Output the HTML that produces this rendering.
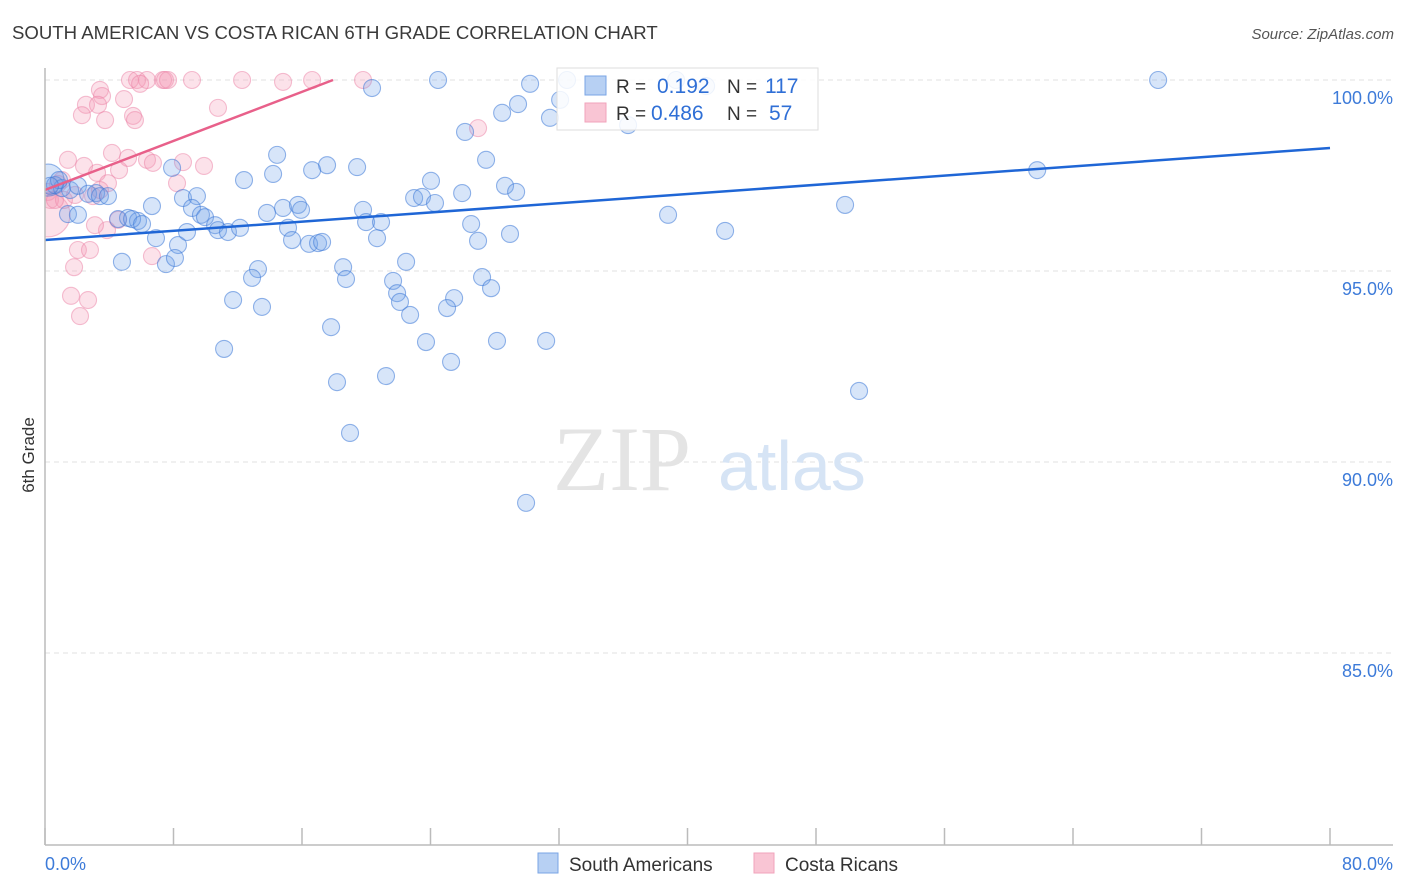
<!DOCTYPE html>
<html><head><meta charset="utf-8"><style>
body{margin:0;background:#fff;font-family:"Liberation Sans",sans-serif}
svg{display:block}
</style></head><body>
<svg id="chart" width="1406" height="892">
<text x="12" y="39" font-size="18.6" fill="#3a3a3a">SOUTH AMERICAN VS COSTA RICAN 6TH GRADE CORRELATION CHART</text>
<text x="1394" y="39" font-size="15" fill="#555" font-style="italic" text-anchor="end">Source: ZipAtlas.com</text>
<g id="grid"></g>
<g>
<text x="553" y="490" font-size="92" font-family="Liberation Serif,serif" fill="#e4e4e4">ZIP</text>
<text x="718" y="490" font-size="70" fill="#d6e4f5">atlas</text>
</g>
<clipPath id="pc"><rect x="45" y="60" width="1350" height="785"/></clipPath>
<g id="points" clip-path="url(#pc)"></g>
<g id="axes"></g>
<text transform="translate(34,455) rotate(-90)" font-size="17" fill="#333" text-anchor="middle">6th Grade</text>
<g>
<rect x="557" y="68" width="261" height="62" fill="#fff" fill-opacity="0.85" stroke="#ddd"/>
<rect x="585" y="76" width="21" height="19" fill="#b7d0f3" stroke="#7aa5e6"/>
<rect x="585" y="103" width="21" height="19" fill="#f9c5d4" stroke="#f1a3bb"/>
<text x="616" y="93" font-size="19" fill="#333">R = </text><text x="657" y="93" font-size="21" fill="#2f6fd6">0.192</text>
<text x="727" y="93" font-size="19" fill="#333">N = </text><text x="765" y="93" font-size="21" fill="#2f6fd6">117</text>
<text x="616" y="120" font-size="19" fill="#333">R = </text><text x="651" y="120" font-size="21" fill="#2f6fd6">0.486</text>
<text x="727" y="120" font-size="19" fill="#333">N = </text><text x="769" y="120" font-size="21" fill="#2f6fd6">57</text>
</g>
<g>
<rect x="538" y="853" width="20" height="20" fill="#b7d0f3" stroke="#7aa5e6"/>
<text x="569" y="871" font-size="19" fill="#333">South Americans</text>
<rect x="754" y="853" width="20" height="20" fill="#f9c5d4" stroke="#f1a3bb"/>
<text x="785" y="871" font-size="19" fill="#333">Costa Ricans</text>
</g>
</svg>
<script>
const blueX=[24.47,30.2,20.36,29.45,28.46,31.44,26.15,36.3,32.07,32.5,39.29,41.16,69.3,14.45,17.56,19.43,16.63,27.46,7.91,12.39,14.2,24.03,28.64,29.33,25.97,22.98,23.47,24.28,8.59,9.46,6.66,9.15,9.71,9.96,10.59,10.77,11.39,12.14,13.82,14.82,15.75,15.94,19.8,19.99,20.92,26.53,15.13,15.38,16.44,17.0,17.25,20.67,26.96,28.95,38.79,42.34,49.81,61.77,6.91,8.28,8.84,4.79,7.53,8.09,13.26,12.89,18.56,18.74,22.48,21.67,21.92,22.1,22.73,25.47,25.03,27.21,27.77,11.71,13.51,17.81,11.15,23.72,25.28,28.14,31.2,18.18,21.23,18.99,50.68,29.95,0.19,0.62,1.06,1.56,2.05,2.68,3.18,3.42,3.92,4.55,5.17,5.79,5.42,6.04,1.43,2.05,0.87,0.31];
const blueY=[100,99.9,99.79,99.37,99.14,99.01,98.64,98.82,99.48,100,100,99.84,100,98.04,97.77,97.72,97.64,97.91,97.7,97.38,97.54,97.36,97.23,97.07,97.04,96.91,96.94,96.78,96.91,96.96,96.7,96.65,96.47,96.41,96.2,96.07,96.02,96.13,96.52,96.65,96.73,96.6,96.6,96.28,96.28,96.23,96.13,95.81,95.71,95.73,95.76,95.86,95.79,95.97,96.47,96.05,96.73,97.64,95.86,95.68,96.02,95.24,95.18,95.34,95.05,94.82,95.1,94.79,95.24,94.74,94.42,94.19,93.85,94.29,94.03,94.84,94.55,94.24,94.06,93.53,92.96,93.14,92.62,93.17,93.17,92.09,92.25,90.76,91.86,88.93,97.38,97.25,97.17,97.12,97.23,97.02,97.04,96.96,96.96,96.36,96.39,96.31,96.36,96.23,96.49,96.47,97.38,97.23];
const pinkX=[5.29,5.73,6.35,7.35,7.47,7.66,9.15,12.27,14.82,16.63,19.8,5.92,3.42,3.55,2.55,3.3,4.92,2.3,3.74,5.48,5.6,10.77,4.17,5.17,1.43,6.35,6.72,8.59,9.9,2.43,3.24,4.61,26.96,8.22,3.92,0.81,0.19,0.31,0.19,1.18,1.87,2.99,3.42,4.55,3.86,3.11,2.05,2.8,1.81,1.62,2.68,2.18,6.66,0.62,1.06];
const pinkY=[100,100,100,100,100,100,100,100,99.95,100,100,99.9,99.74,99.58,99.35,99.35,99.5,99.08,98.95,99.06,98.95,99.27,98.09,97.96,97.91,97.91,97.83,97.85,97.75,97.75,97.57,97.64,98.74,97.3,97.3,97.28,97.07,96.86,96.47,96.86,96.99,96.96,97.12,96.34,96.07,96.2,95.55,95.55,95.1,94.35,94.24,93.82,95.39,96.86,97.38];
const blueTrend=[95.81,98.22];
const pinkTrend=[97.12,100.0,17.93];
const yTicks=[100,95,90,85];
const yTickLabels=["100.0%","95.0%","90.0%","85.0%"];
const xTicks=[0,8,16,24,32,40,48,56,64,72,80];
const NS="http://www.w3.org/2000/svg";
const X=v=>45+v*1285/80, Y=v=>80+(100-v)*38.2;
function mk(tag,attrs,parent){const e=document.createElementNS(NS,tag);for(const k in attrs)e.setAttribute(k,attrs[k]);parent.appendChild(e);return e;}
const grid=document.getElementById('grid'),pts=document.getElementById('points'),axes=document.getElementById('axes');
yTicks.forEach((t,i)=>{
 const l=mk('line',{x1:45,x2:1393,y1:Y(t),y2:Y(t),stroke:'#e2e2e2','stroke-dasharray':'5,4'},grid);
 
 
 const tx=mk('text',{x:1393,y:Y(t)+24,'font-size':18,fill:'#3d7bd9','text-anchor':'end'},axes);
 tx.textContent=yTickLabels[i];
 
 
});
mk('line',{x1:45,x2:45,y1:68,y2:845,stroke:'#bbb','stroke-width':1.5},axes);
mk('line',{x1:45,x2:1393,y1:845,y2:845,stroke:'#bbb','stroke-width':1.5},axes);
xTicks.forEach(t=>{const l=mk('line',{x1:X(t),x2:X(t),y1:828,y2:845,stroke:'#bbb','stroke-width':1.5},axes);
 
 });
let a=mk('text',{x:45,y:870,'font-size':18,fill:'#3d7bd9'},axes);a.textContent='0.0%';


a=mk('text',{x:1393,y:870,'font-size':18,fill:'#3d7bd9','text-anchor':'end'},axes);a.textContent='80.0%';


pinkX.forEach((x,i)=>{const big=(i===38);const c=mk('circle',{cx:X(x),cy:Y(pinkY[i]),r:big?22:8.5,fill:'rgba(245,150,180,0.28)',stroke:'rgba(235,130,165,0.5)','stroke-width':1.1},pts);
 
 });
blueX.forEach((x,i)=>{const big=(i===90);const c=mk('circle',{cx:X(x),cy:Y(blueY[i]),r:big?16:8.5,fill:'rgba(110,160,235,0.28)',stroke:'rgba(60,120,215,0.55)','stroke-width':1.1},pts);
 
 });
let tl=mk('line',{x1:X(0),y1:Y(blueTrend[0]),x2:X(80),y2:Y(blueTrend[1]),stroke:'#1f66d6','stroke-width':2.5},pts);


tl=mk('line',{x1:X(0),y1:Y(pinkTrend[0]),x2:X(pinkTrend[2]),y2:Y(pinkTrend[1]),stroke:'#e8608a','stroke-width':2.5},pts);


</script>
</body></html>
